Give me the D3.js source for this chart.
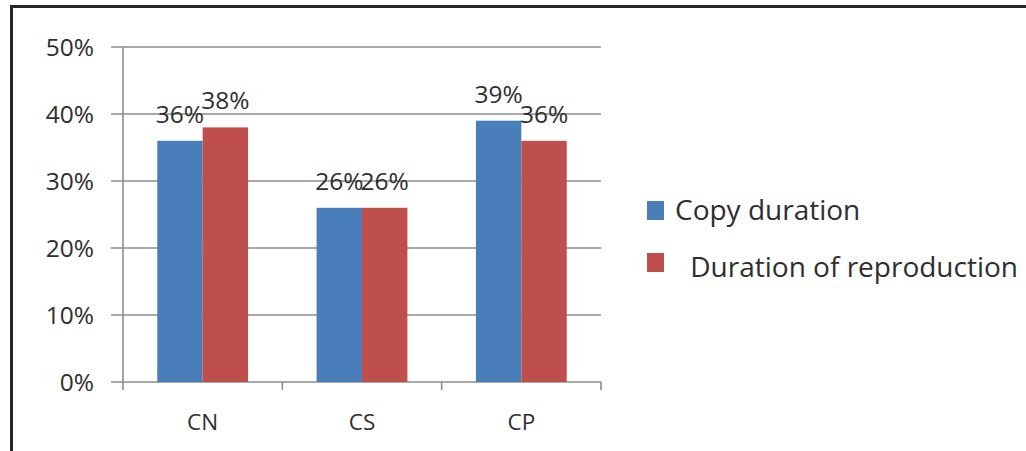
<!DOCTYPE html>
<html>
<head>
<meta charset="utf-8">
<script src="https://cdn.jsdelivr.net/npm/d3@7"></script>
<style>
  html, body { margin: 0; padding: 0; background: #fff; }
  svg { display: block; }
  text { font-family: "Open Sans", "DejaVu Sans", sans-serif; fill: #2e2e2e; }
</style>
</head>
<body>
<svg id="chart" width="1026" height="451"></svg>
<script>
// Share of time per condition, two measures
const categories = ["CN", "CS", "CP"];
const seriesNames = ["Copy duration", "Duration of reproduction"];
const copyDuration = [0.36, 0.26, 0.39];
const reproductionDuration = [0.38, 0.26, 0.36];
const yTicks = [0, 0.1, 0.2, 0.3, 0.4, 0.5];
const colors = ["#4a7ebb", "#be4f4c"];

const svg = d3.select("#chart");

// frame lines (top and left)
svg.append("line").attr("x1", 10).attr("x2", 1026).attr("y1", 6.5).attr("y2", 6.5)
  .attr("stroke", "#262626").attr("stroke-width", 3);
svg.append("line").attr("x1", 11.5).attr("x2", 11.5).attr("y1", 5).attr("y2", 451)
  .attr("stroke", "#262626").attr("stroke-width", 3);

const plot = { left: 123, right: 601, top: 47, bottom: 382 };

const x = d3.scaleBand().domain(categories)
  .range([plot.left, plot.right]).paddingInner(0.43).paddingOuter(0.215);
const xs = d3.scaleBand().domain(seriesNames).range([0, x.bandwidth()]);
const y = d3.scaleLinear().domain([0, 0.5]).range([plot.bottom, plot.top]);

const gridColor = "#8c8c8c";

// horizontal gridlines with left tick marks
svg.append("g").selectAll("line").data(yTicks).join("line")
  .attr("x1", plot.left - 12).attr("x2", plot.right)
  .attr("y1", d => y(d)).attr("y2", d => y(d))
  .attr("stroke", gridColor).attr("stroke-width", 1.6);

// y axis labels
svg.append("g").selectAll("text").data(yTicks).join("text")
  .attr("x", 94).attr("y", d => y(d))
  .attr("dy", "0.38em")
  .attr("text-anchor", "end")
  .attr("font-size", 24.5)
  .text(d => d3.format(".0%")(d));

// vertical axis line
svg.append("line").attr("x1", plot.left).attr("x2", plot.left)
  .attr("y1", plot.top).attr("y2", plot.bottom + 8)
  .attr("stroke", gridColor).attr("stroke-width", 1.6);

// category separator ticks
const bounds = categories.map(c => x(c) - x.step() * x.paddingInner() / 2).slice(1).concat([plot.right]);
svg.append("g").selectAll("line").data(bounds).join("line")
  .attr("x1", d => d).attr("x2", d => d)
  .attr("y1", plot.bottom).attr("y2", plot.bottom + 8)
  .attr("stroke", gridColor).attr("stroke-width", 1.6);

// category labels
svg.append("g").selectAll("text").data(categories).join("text")
  .attr("x", d => x(d) + x.bandwidth() / 2)
  .attr("y", 430)
  .attr("text-anchor", "middle")
  .attr("font-size", 22.5)
  .text(d => d);

// bars
const series = [copyDuration, reproductionDuration];
const rows = [];
categories.forEach((c, i) => {
  seriesNames.forEach((s, j) => rows.push({ cat: c, name: s, value: series[j][i], j }));
});

svg.append("g").selectAll("rect").data(rows).join("rect")
  .attr("x", d => x(d.cat) + xs(d.name))
  .attr("y", d => y(d.value))
  .attr("width", xs.bandwidth())
  .attr("height", d => y(0) - y(d.value))
  .attr("fill", d => colors[d.j]);

// value labels
svg.append("g").selectAll("text").data(rows).join("text")
  .attr("x", d => x(d.cat) + xs(d.name) + xs.bandwidth() / 2)
  .attr("y", d => y(d.value) - 18)
  .attr("text-anchor", "middle")
  .attr("font-size", 24.5)
  .text(d => d3.format(".0%")(d.value));

// legend: swatch rows and their label offsets
const legendLabels = ["Copy duration", "\u00a0Duration of reproduction"];
const swatchTop = [201, 253];
const labelBaseline = [220, 277];
const labelX = [675, 683];
const legend = svg.append("g").selectAll("g").data(seriesNames).join("g");
legend.append("rect")
  .attr("x", 647).attr("y", (d, i) => swatchTop[i])
  .attr("width", 17).attr("height", 19)
  .attr("fill", (d, i) => colors[i]);
legend.append("text")
  .attr("x", (d, i) => labelX[i]).attr("y", (d, i) => labelBaseline[i])
  .attr("font-size", 28)
  .text((d, i) => legendLabels[i]);
</script>
</body>
</html>
